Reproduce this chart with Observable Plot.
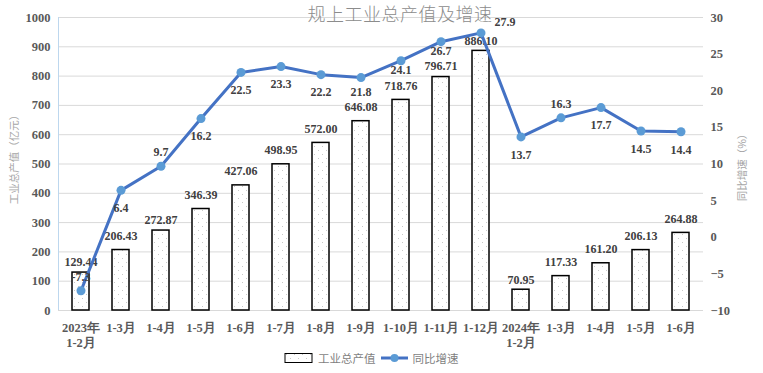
<!DOCTYPE html>
<html><head><meta charset="utf-8">
<script src="https://cdn.jsdelivr.net/npm/d3@7"></script>
<script src="https://cdn.jsdelivr.net/npm/@observablehq/plot@0.6"></script>
<style>
body{margin:0;background:#fff;}
#wrap{position:relative;width:763px;height:373px;overflow:hidden;font-family:"Noto Sans CJK SC",sans-serif;}
#chart{position:absolute;left:0;top:0;}
#title{position:absolute;left:0;width:800px;top:2px;text-align:center;font-size:18px;line-height:22px;color:#8c8c8c;font-weight:300;letter-spacing:0.5px;}
.ytitle{position:absolute;font-size:10.5px;color:#a6a6a6;white-space:nowrap;transform:translate(-50%,-50%) rotate(-90deg);line-height:12px;}
#legend{position:absolute;top:350px;left:284px;display:flex;align-items:center;font-size:11.5px;color:#7f7f7f;}
#legend span{margin-right:4px;}
</style></head>
<body>
<div id="wrap">
  <div id="chart"></div>
  <div id="title">规上工业总产值及增速</div>
  <div class="ytitle" style="left:14px;top:157px;">工业总产值（亿元）</div>
  <div class="ytitle" style="left:742px;top:165px;">同比增速（%）</div>
  <div id="legend">
    <svg width="30" height="12" style="margin-right:4px"><rect x="1" y="1.5" width="27" height="9" fill="url(#dots)" stroke="#000" stroke-width="1"/></svg>
    <span>工业总产值</span>
    <svg width="30" height="12" style="margin-right:3px"><line x1="1" x2="28" y1="6" y2="6" stroke="#4472C4" stroke-width="3"/><circle cx="14.5" cy="6" r="4" fill="#5B9BD5"/></svg>
    <span>同比增速</span>
  </div>
</div>
<script>
const categories = ["2023年\n1-2月","1-3月","1-4月","1-5月","1-6月","1-7月","1-8月","1-9月","1-10月","1-11月","1-12月","2024年\n1-2月","1-3月","1-4月","1-5月","1-6月"];
const outputValue = [129.44,206.43,272.87,346.39,427.06,498.95,572.00,646.08,718.76,796.71,886.10,70.95,117.33,161.20,206.13,264.88];
const growthRate = [-7.3,6.4,9.7,16.2,22.5,23.3,22.2,21.8,24.1,26.7,27.9,13.7,16.3,17.7,14.5,14.4];
const growthLabelPlace = ["above","below","above","below","below","below","below","belowMid","belowNear","belowNear","right","below","above","below","below","below"];
const outputLabelPlace = ["near","far","near","far","far","far","far","far","far","mid","near","near","far","far","far","far"];
const leftTicks = [0,100,200,300,400,500,600,700,800,900,1000];
const rightTicks = [-10,-5,0,5,10,15,20,25,30];

const rightMin = -10, rightMax = 30, leftMax = 1000;
const toLeft = g => (g - rightMin) / (rightMax - rightMin) * leftMax;
const fromLeft = v => v / leftMax * (rightMax - rightMin) + rightMin;

const rows = categories.map((c, i) => ({key: i, label: c, output: outputValue[i], growth: growthRate[i], place: growthLabelPlace[i], oplace: outputLabelPlace[i]}));

const numFont = {fontFamily: "Liberation Serif", fontWeight: "bold", fontSize: 12.5};
const lbl = {fill: "#404040", fontFamily: "Liberation Serif", fontWeight: "bold", fontSize: 12};
const gy = d => toLeft(d.growth);
const gt = d => d.growth.toFixed(1);
const ot = d => d.output.toFixed(2);

const chart = Plot.plot({
  width: 763, height: 373,
  marginTop: 17, marginBottom: 63, marginLeft: 58, marginRight: 60,
  style: {background: "transparent"},
  x: {type: "band", domain: rows.map(d => d.key), paddingInner: 0.58, paddingOuter: 0.29},
  y: {domain: [0, leftMax]},
  marks: [
    Plot.gridY({ticks: leftTicks, stroke: "#d9d9d9", strokeOpacity: 1, strokeWidth: 1}),
    Plot.barY(rows, {x: "key", y: "output", fill: "url(#dots)", stroke: "#000", strokeWidth: 1.5}),
    Plot.axisY({ticks: leftTicks, tickFormat: d => String(d), tickSize: 0, tickPadding: 8, label: null, fill: "#595959", ...numFont}),
    Plot.axisY({anchor: "right", ticks: rightTicks.map(toLeft), tickFormat: v => String(Math.round(fromLeft(v))).replace("-", "−"), tickSize: 0, tickPadding: 7, label: null, fill: "#595959", ...numFont, textAnchor: "start"}),
    Plot.axisX({tickSize: 0, tickPadding: 10, label: null, tickFormat: i => categories[i], fill: "#595959", lineHeight: 1.25, ...numFont}),
    Plot.text(rows.filter(d => d.oplace === "far"), {x: "key", y: "output", text: ot, dy: -14, ...lbl}),
    Plot.text(rows.filter(d => d.oplace === "mid"), {x: "key", y: "output", text: ot, dy: -11, ...lbl}),
    Plot.text(rows.filter(d => d.oplace === "near"), {x: "key", y: "output", text: ot, dy: -10, ...lbl}),
    Plot.line(rows, {x: "key", y: gy, stroke: "#4472C4", strokeWidth: 3, curve: "linear"}),
    Plot.dot(rows, {x: "key", y: gy, r: 4.5, fill: "#5B9BD5", stroke: "none"}),
    Plot.text(rows.filter(d => d.place === "above"), {x: "key", y: gy, text: gt, dy: -14, ...lbl}),
    Plot.text(rows.filter(d => d.place === "below"), {x: "key", y: gy, text: gt, dy: 18, ...lbl}),
    Plot.text(rows.filter(d => d.place === "belowMid"), {x: "key", y: gy, text: gt, dy: 15, ...lbl}),
    Plot.text(rows.filter(d => d.place === "belowNear"), {x: "key", y: gy, text: gt, dy: 9, ...lbl}),
    Plot.text(rows.filter(d => d.place === "right"), {x: "key", y: gy, text: gt, dx: 24, dy: -11, ...lbl})
  ]
});

const svg = d3.select(chart);
const defs = svg.insert("defs", ":first-child");
const pat = defs.append("pattern").attr("id", "dots").attr("width", 8).attr("height", 8).attr("patternUnits", "userSpaceOnUse");
pat.append("rect").attr("width", 8).attr("height", 8).attr("fill", "#fff");
pat.append("rect").attr("x", 2).attr("y", 2).attr("width", 1).attr("height", 1).attr("fill", "#c8c8c8");
pat.append("rect").attr("x", 6).attr("y", 6).attr("width", 1).attr("height", 1).attr("fill", "#c8c8c8");
// left axis line
svg.append("line").attr("x1", 58.5).attr("x2", 58.5).attr("y1", 17).attr("y2", 310).attr("stroke", "#bdd7ee").attr("stroke-width", 1);
document.getElementById("chart").appendChild(chart);
</script>
</body></html>
